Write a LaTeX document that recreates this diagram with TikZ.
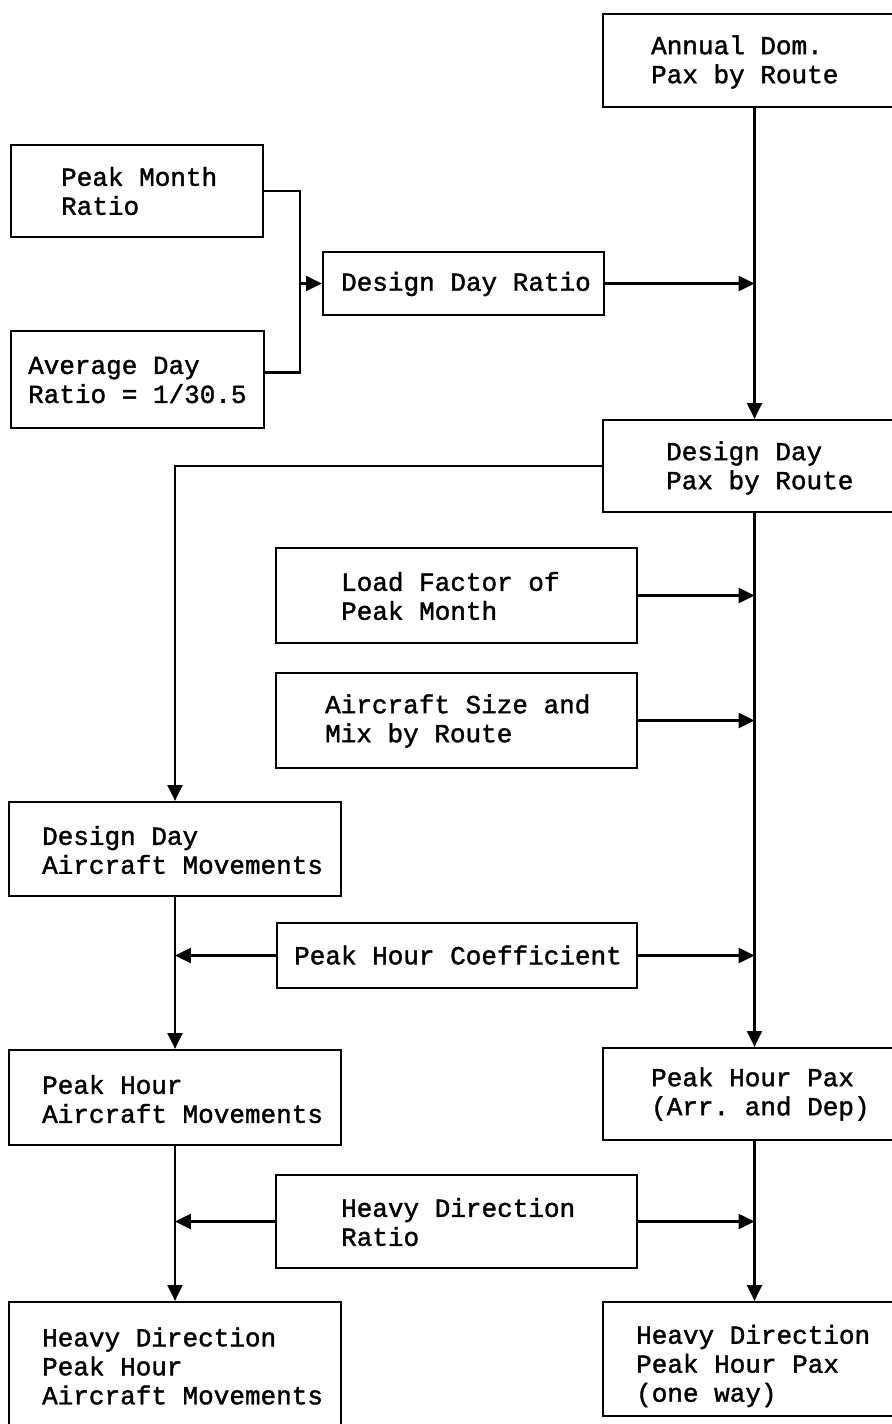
\documentclass[tikz,border=0pt]{standalone}
\usepackage{fontspec}
\setmonofont[FakeBold=1.5]{Liberation Mono}
\usetikzlibrary{positioning, arrows.meta, fit, calc}

\begin{document}
\begin{tikzpicture}
[x=0.02cm, y=-0.02cm, line width=1.3pt,
 box/.style={rectangle, draw, inner sep=0pt},
 lbl/.style={anchor=west, align=left, inner sep=0pt,
   font=\fontsize{14.8}{16.5}\selectfont\ttfamily},
 ->/.style={arrows={-{Triangle[length=9pt, width=8.5pt]}}}]

% page frame, the right column runs off the edge
\useasboundingbox (0,0) rectangle (892,1424);
\clip (0,0) rectangle (892,1424);

% boxes
\node[box, fit={(603,14) (906,107)}] (annual) {};
\node[box, fit={(11,145) (263,237)}] (peak) {};
\node[box, fit={(323,252) (604,315)}] (ddr) {};
\node[box, fit={(11,331) (264,428)}] (avg) {};
\node[box, fit={(603,420) (906,512)}] (ddpax) {};
\node[box, fit={(276,548) (637,643)}] (lf) {};
\node[box, fit={(276,673) (637,768)}] (acs) {};
\node[box, fit={(9,802) (341,896)}] (ddam) {};
\node[box, fit={(277,923) (637,988)}] (phc) {};
\node[box, fit={(9,1050) (341,1145)}] (pham) {};
\node[box, fit={(603,1048) (906,1140)}] (phpax) {};
\node[box, fit={(276,1175) (637,1268)}] (hdr) {};
\node[box, fit={(9,1302) (341,1440)}] (hdpham) {};
\node[box, fit={(603,1302) (906,1416)}] (hdpax) {};

% labels
\node[lbl] (annual-t) at (650,62) {Annual Dom.\\Pax by Route};
\node[lbl] (peak-t) at (60,191) {Peak Month\\Ratio};
\node[lbl] (ddr-t) at (340,284) {Design Day Ratio};
\node[lbl] (avg-t) at (27,380) {Average Day\\Ratio = 1/30.5};
\node[lbl] (ddpax-t) at (665,468) {Design Day\\Pax by Route};
\node[lbl] (lf-t) at (340,596) {Load Factor of\\Peak Month};
\node[lbl] (acs-t) at (324,721) {Aircraft Size and\\Mix by Route};
\node[lbl] (ddam-t) at (41,850) {Design Day\\Aircraft Movements};
\node[lbl] (phc-t) at (293,955) {Peak Hour Coefficient};
\node[lbl] (pham-t) at (41,1099) {Peak Hour\\Aircraft Movements};
\node[lbl] (phpax-t) at (650,1094) {Peak Hour Pax\\(Arr. and Dep)};
\node[lbl] (hdr-t) at (340,1222) {Heavy Direction\\Ratio};
\node[lbl] (hdpham-t) at (41,1366) {Heavy Direction\\Peak Hour\\Aircraft Movements};
\node[lbl] (hdpax-t) at (635,1366) {Heavy Direction\\Peak Hour Pax\\(one way)};

% bracket joining the two ratios
\coordinate (fork) at (300,0);
\coordinate (avgjoin) at ([yshift=4pt]avg.east);
\draw (peak.east) -| (fork |- avgjoin) -- (avgjoin);
\draw[->] (fork |- ddr.west) -- (ddr.west);

% right column
\draw[->] (annual.south) -- (ddpax.north);
\draw[->] (ddr.east) -- (ddr.east -| annual.south);
\draw[->] (lf.east) -- (lf.east -| ddpax.south);
\draw[->] (acs.east) -- (acs.east -| ddpax.south);
\draw[->] (ddpax.south) -- (phpax.north);
\draw[->] (phc.east) -- (phc.east -| ddpax.south);
\draw[->] (phpax.south) -- (hdpax.north);
\draw[->] (hdr.east) -- (hdr.east -| phpax.south);

% left column
\draw[->] (ddpax.west) -| (ddam.north);
\draw[->] (ddam.south) -- (pham.north);
\draw[->] (phc.west) -- (phc.west -| ddam.south);
\draw[->] (pham.south) -- (hdpham.north);
\draw[->] (hdr.west) -- (hdr.west -| pham.south);

\end{tikzpicture}
\end{document}
